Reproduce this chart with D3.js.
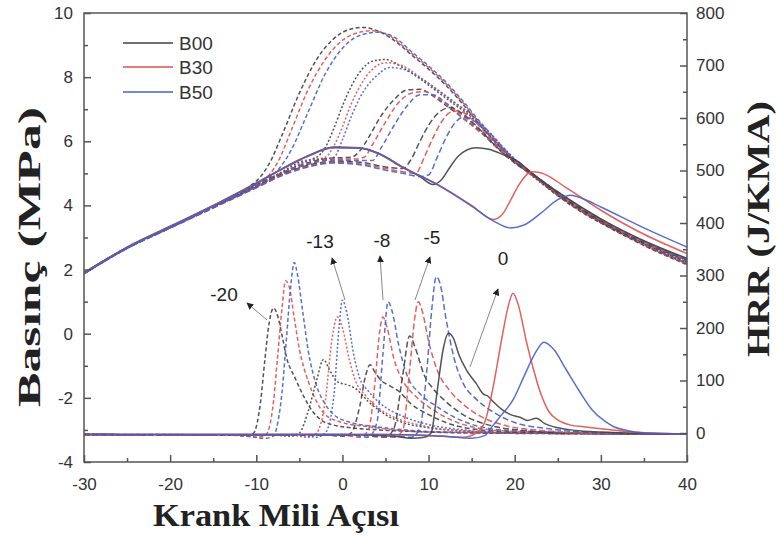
<!DOCTYPE html>
<html><head><meta charset="utf-8">
<script src="https://cdn.jsdelivr.net/npm/d3@7"></script>
<style>body{margin:0;background:#fff}</style>
</head><body><svg id="c" width="777" height="536"></svg>
<script>
// ---------- axis ticks ----------
const xTicks = [-30,-20,-10,0,10,20,30,40];
const xMinor = [-25,-15,-5,5,15,25,35];
const yLeftTicks = [-4,-2,0,2,4,6,8,10];
const yLeftMinor = [-3,-1,1,3,5,7,9];
const yRightTicks = [0,100,200,300,400,500,600,700,800];
const yRightMinor = [50,150,250,350,450,550,650,750];
const fuels = ["B00","B30","B50"];
const timings = ["-20","-13","-8","-5","0"];
const timingLabels = ["-20","-13","-8","-5","0"];

// ---------- pressure (MPa) [crank angle, value] ----------
const p_B00_m20 = [[-30,1.9],[-25,2.68],[-20,3.33],[-15,3.98],[-11,4.55],[-9.5,4.9],[-8.5,5.3],[-7,6.2],[-5,7.5],[-3,8.55],[-1,9.2],[1,9.5],[2.5,9.55],[4,9.45],[6,9.15],[8,8.7],[10,8.25],[12,7.75],[14,7.15],[16,6.5],[18,5.9],[20,5.35],[22,4.95],[25,4.3],[28,3.75],[30,3.45],[35,2.75],[40,2.15]];
const p_B30_m20 = [[-30,1.88],[-25,2.67],[-20,3.32],[-15,3.97],[-10,4.68],[-8.5,4.95],[-7.5,5.35],[-6,6.3],[-4,7.6],[-2,8.55],[0,9.15],[2,9.4],[3.5,9.45],[5,9.35],[8,8.75],[10,8.3],[12,7.8],[14,7.2],[16,6.55],[18,5.95],[20,5.4],[22,4.98],[25,4.32],[28,3.77],[30,3.47],[35,2.77],[40,2.17]];
const p_B50_m20 = [[-30,1.87],[-25,2.66],[-20,3.31],[-15,3.96],[-10,4.66],[-7.5,5.1],[-6,5.7],[-4,6.9],[-2,8.1],[0,8.9],[2,9.3],[4,9.4],[6,9.25],[8,8.8],[10,8.35],[12,7.85],[14,7.25],[16,6.6],[18,6.0],[20,5.42],[22,5.0],[25,4.35],[28,3.8],[30,3.5],[35,2.8],[40,2.2]];
const p_B00_m13 = [[-30,1.9],[-25,2.68],[-20,3.33],[-15,3.97],[-10,4.62],[-7,5.05],[-5,5.35],[-3,5.5],[-2,5.8],[-1,6.4],[0,7.1],[1,7.7],[2,8.15],[3.5,8.5],[5,8.55],[7,8.3],[9,7.95],[11,7.55],[13,7.15],[15,6.75],[17,6.2],[19,5.65],[21,5.15],[25,4.32],[30,3.47],[35,2.78],[40,2.2]];
const p_B30_m13 = [[-30,1.88],[-25,2.67],[-20,3.32],[-15,3.96],[-10,4.6],[-7,5.02],[-4,5.4],[-2,5.5],[-1,5.85],[0,6.45],[1,7.15],[2,7.7],[3.5,8.25],[5,8.45],[7,8.35],[9,8.0],[11,7.6],[13,7.2],[15,6.8],[17,6.25],[19,5.7],[21,5.18],[25,4.35],[30,3.5],[35,2.8],[40,2.22]];
const p_B50_m13 = [[-30,1.87],[-25,2.66],[-20,3.31],[-15,3.95],[-10,4.58],[-7,5.0],[-4,5.38],[-1,5.5],[0,6.05],[1,6.75],[2,7.35],[4,8.05],[5.5,8.3],[7,8.25],[9,7.98],[11,7.62],[13,7.22],[15,6.82],[17,6.3],[19,5.72],[21,5.2],[25,4.37],[30,3.52],[35,2.82],[40,2.24]];
const p_B00_m8 = [[-30,1.9],[-25,2.68],[-20,3.32],[-15,3.95],[-10,4.62],[-7,5.02],[-4,5.33],[-1,5.48],[1,5.5],[2,5.7],[3,6.1],[4.5,6.8],[6,7.3],[7.5,7.6],[9,7.62],[10.5,7.42],[12,7.12],[14,6.72],[16,6.3],[18,5.78],[20,5.32],[22,4.95],[25,4.35],[30,3.5],[35,2.82],[40,2.25]];
const p_B30_m8 = [[-30,1.88],[-25,2.67],[-20,3.31],[-15,3.94],[-10,4.6],[-7,5.0],[-4,5.3],[-1,5.45],[1.5,5.45],[2.5,5.5],[3.5,5.9],[5,6.6],[6.5,7.2],[8,7.5],[9.5,7.55],[11,7.35],[13,6.95],[15,6.5],[17,6.05],[19,5.55],[21,5.15],[25,4.37],[30,3.52],[35,2.84],[40,2.27]];
const p_B50_m8 = [[-30,1.87],[-25,2.66],[-20,3.3],[-15,3.93],[-10,4.58],[-7,4.98],[-4,5.28],[-1,5.42],[2,5.4],[3.5,5.4],[4.5,5.8],[6,6.5],[7.5,7.1],[9,7.45],[10.5,7.45],[12,7.2],[14,6.8],[16,6.35],[18,5.85],[20,5.38],[22,5.0],[25,4.4],[30,3.55],[35,2.86],[40,2.28]];
const p_B00_m5 = [[-30,1.9],[-25,2.68],[-20,3.31],[-15,3.94],[-10,4.58],[-7,4.97],[-4,5.25],[-1,5.38],[2,5.35],[5,5.2],[7,5.15],[8,5.45],[9,6.0],[10,6.5],[11,6.85],[12.5,7.05],[14,6.85],[16,6.35],[18,5.8],[20,5.35],[22,4.98],[25,4.38],[30,3.52],[35,2.84],[40,2.3]];
const p_B30_m5 = [[-30,1.88],[-25,2.67],[-20,3.3],[-15,3.93],[-10,4.56],[-7,4.95],[-4,5.22],[-1,5.35],[2,5.3],[5,5.15],[7,5.05],[8.5,5.0],[9.5,5.5],[10.5,6.1],[11.5,6.6],[12.5,6.9],[13.5,6.95],[15,6.7],[17,6.15],[19,5.6],[21,5.2],[25,4.4],[30,3.55],[35,2.86],[40,2.32]];
const p_B50_m5 = [[-30,1.87],[-25,2.66],[-20,3.29],[-15,3.92],[-10,4.55],[-7,4.93],[-4,5.2],[-1,5.32],[2,5.27],[5,5.1],[7,5.0],[9,4.9],[10,4.95],[11,5.5],[12,6.1],[13,6.55],[14,6.75],[15.5,6.6],[17,6.2],[19,5.65],[21,5.22],[25,4.42],[30,3.57],[35,2.88],[40,2.33]];
const p_B00_0 = [[-30,1.9],[-25,2.7],[-20,3.35],[-15,4.0],[-10,4.7],[-7,5.15],[-4,5.55],[-1,5.82],[2,5.8],[4,5.65],[7,5.2],[9,4.9],[10.5,4.65],[11.5,4.8],[12.5,5.2],[13.5,5.55],[15.5,5.8],[17,5.75],[18.5,5.6],[20.5,5.35],[22,5.0],[25,4.42],[30,3.58],[35,2.9],[40,2.35]];
const p_B30_0 = [[-30,1.89],[-25,2.69],[-20,3.34],[-15,3.99],[-10,4.69],[-7,5.14],[-4,5.54],[-1,5.81],[2,5.79],[4,5.64],[7,5.19],[11,4.66],[15,4.0],[17.5,3.56],[18.5,3.7],[19.5,4.15],[20.5,4.65],[22,5.05],[23,5.02],[26,4.55],[30,3.85],[35,3.1],[40,2.5]];
const p_B50_0 = [[-30,1.88],[-25,2.68],[-20,3.33],[-15,3.98],[-10,4.68],[-7,5.13],[-4,5.53],[-1,5.8],[2,5.78],[4,5.63],[7,5.18],[11,4.65],[15,3.98],[17.5,3.52],[19.5,3.3],[21,3.38],[23,3.75],[25,4.18],[26.5,4.32],[28,4.2],[30,3.95],[35,3.3],[40,2.7]];

// ---------- heat release rate (J/KMA) [crank angle, value] ----------
const h_B00_m20 = [[-30,-3],[-20,-3],[-13,-4],[-11,-6],[-10.3,0],[-9.5,60],[-9,140],[-8.5,210],[-8,238],[-7.5,222],[-7,185],[-6.5,145],[-5.5,105],[-4.5,70],[-3.5,42],[-2.5,25],[-1,15],[1,10],[4,6],[8,3],[15,0],[40,-2]];
const h_B30_m20 = [[-30,-3],[-12,-4],[-10,-8],[-9,-5],[-8.5,10],[-8,60],[-7.5,150],[-7,240],[-6.6,290],[-6.2,280],[-5.6,220],[-5,160],[-4,100],[-3,60],[-2,35],[0,20],[3,12],[6,6],[10,2],[40,-2]];
const h_B50_m20 = [[-30,-3],[-12,-4],[-9,-10],[-8,-6],[-7.5,20],[-7,80],[-6.5,180],[-6,280],[-5.6,325],[-5.2,300],[-4.6,230],[-4,160],[-3,90],[-2,55],[-1,35],[1,20],[4,12],[8,5],[12,2],[40,-2]];
const h_B00_m13 = [[-30,-3],[-8,-4],[-6,-6],[-5,0],[-4,40],[-3,100],[-2.2,140],[-1.5,120],[-0.5,97],[0.5,92],[1.5,85],[3,60],[5,35],[7,20],[10,10],[14,4],[20,0],[40,-2]];
const h_B30_m13 = [[-30,-3],[-6,-4],[-4,-8],[-3,0],[-2,60],[-1.2,180],[-0.6,221],[0,200],[0.8,140],[1.5,100],[2.5,75],[4,50],[6,30],[9,15],[13,5],[20,0],[40,-2]];
const h_B50_m13 = [[-30,-3],[-5,-4],[-3,-8],[-2,0],[-1,70],[-0.4,200],[0,253],[0.5,230],[1.3,150],[2,105],[3,80],[4.5,55],[7,32],[10,16],[14,6],[20,0],[40,-2]];
const h_B00_m8 = [[-30,-3],[-2,-4],[0,-6],[1,0],[2,50],[2.7,110],[3.2,130],[3.8,115],[4.5,100],[5.5,90],[6.5,80],[8,55],[10,35],[12,20],[15,8],[20,2],[40,-2]];
const h_B30_m8 = [[-30,-3],[0,-4],[2,-8],[3,5],[3.8,100],[4.3,190],[4.7,221],[5.2,200],[6,140],[7,100],[8.5,70],[10,50],[12,30],[15,12],[20,3],[40,-2]];
const h_B50_m8 = [[-30,-3],[1,-4],[3,-8],[4,20],[4.7,150],[5.3,250],[5.8,230],[6.5,170],[7.5,110],[9,75],[11,50],[13,30],[16,12],[20,4],[40,-2]];
const h_B00_m5 = [[-30,-3],[2,-4],[5,-8],[6,10],[7,110],[7.8,185],[8.5,160],[9.5,110],[10.5,85],[12,60],[14,35],[17,15],[21,5],[26,0],[40,-2]];
const h_B30_m5 = [[-30,-3],[3,-4],[6,-8],[7,5],[7.8,120],[8.4,220],[8.8,250],[9.3,230],[10,175],[11,120],[12.5,80],[14,55],[16,32],[19,14],[23,5],[28,0],[40,-2]];
const h_B50_m5 = [[-30,-3],[4,-4],[8,-8],[9,10],[9.8,120],[10.4,240],[10.9,298],[11.4,280],[12,220],[13,140],[14,95],[15.5,65],[17.5,40],[20,20],[24,8],[30,0],[40,-2]];
const h_B00_0 = [[-30,-3],[0,-3],[6,-6],[8,-10],[9.5,-8],[10.3,0],[11,80],[11.7,160],[12.3,190],[12.9,180],[13.5,150],[14.4,120],[15.5,95],[16.3,75],[16.9,70],[17.6,58],[18.5,45],[19.5,35],[20.6,30],[21.5,24],[22.5,28],[23.5,18],[25,10],[27,5],[30,2],[40,-2]];
const h_B30_0 = [[-30,-3],[5,-3],[10,-5],[14,-8],[15.5,0],[16.5,20],[17.5,88],[18.5,180],[19.3,245],[19.8,266],[20.4,245],[21.4,171],[22.2,120],[23,76],[24,40],[25,25],[26.5,15],[28,12],[30,8],[33,3],[40,-2]];
const h_B50_0 = [[-30,-3],[5,-3],[12,-6],[15,-10],[16.5,-5],[17.5,15],[18.5,35],[19.8,63],[21,105],[22.3,150],[23.4,173],[24.5,160],[26,120],[27.5,80],[29,44],[30.5,22],[31.5,12],[33,5],[35,0],[40,-2]];

const pressureData = {
  "B00":[p_B00_m20,p_B00_m13,p_B00_m8,p_B00_m5,p_B00_0],
  "B30":[p_B30_m20,p_B30_m13,p_B30_m8,p_B30_m5,p_B30_0],
  "B50":[p_B50_m20,p_B50_m13,p_B50_m8,p_B50_m5,p_B50_0]};
const hrrData = {
  "B00":[h_B00_m20,h_B00_m13,h_B00_m8,h_B00_m5,h_B00_0],
  "B30":[h_B30_m20,h_B30_m13,h_B30_m8,h_B30_m5,h_B30_0],
  "B50":[h_B50_m20,h_B50_m13,h_B50_m8,h_B50_m5,h_B50_0]};

// ---------- styling ----------
const colors = {"B00":"#404040","B30":"#e0504a","B50":"#4660c8"};
const dashes = {"-20":"4,2.5","-13":"2,2","-8":"5,3","-5":"6,3","0":null};

const svg = d3.select("#c");
const L = 84, R = 687, T = 13, B = 462;
const x = d3.scaleLinear().domain([-30,40]).range([L,R]);
const yL = d3.scaleLinear().domain([-4,10]).range([B,T]);
const yR = d3.scaleLinear().domain([-55.2,800]).range([B,T]);

const plot = svg.append("g");
svg.append("clipPath").attr("id","clp").append("rect")
  .attr("x",L).attr("y",T).attr("width",R-L).attr("height",B-T);
plot.attr("clip-path","url(#clp)");

function drawSeries(dataMap, yScale){
  timings.forEach((t,ti)=>{
    fuels.forEach(f=>{
      const pts = dataMap[f][ti];
      const line = d3.line().x(d=>x(d[0])).y(d=>yScale(d[1])).curve(d3.curveMonotoneX);
      plot.append("path").attr("d",line(pts)).attr("fill","none")
        .attr("stroke",colors[f]).attr("stroke-width",1.5)
        .attr("stroke-dasharray",dashes[t]).attr("stroke-opacity",0.9);
    });
  });
}
drawSeries(hrrData, yR);
drawSeries(pressureData, yL);

// ---------- axes ----------
const axisColor = "#555";
const tickFont = "'Liberation Sans', Arial, sans-serif";
const fmt = d => String(d);
function styleAxis(g){
  g.select(".domain").remove();
  g.selectAll("line").attr("stroke",axisColor).attr("stroke-width",1.5);
  g.selectAll("text").attr("fill","#333").style("font-family",tickFont).style("font-size","17px");
}
svg.append("g").attr("transform",`translate(0,${B})`)
  .call(d3.axisBottom(x).tickValues(xTicks).tickSize(-7).tickPadding(16).tickFormat(fmt)).call(styleAxis);
svg.append("g").attr("transform",`translate(0,${B})`)
  .call(d3.axisBottom(x).tickValues(xMinor).tickSize(-4).tickFormat("")).call(styleAxis);
svg.append("g").attr("transform",`translate(${L},0)`)
  .call(d3.axisLeft(yL).tickValues(yLeftTicks).tickSize(-7).tickPadding(11).tickFormat(fmt)).call(styleAxis);
svg.append("g").attr("transform",`translate(${L},0)`)
  .call(d3.axisLeft(yL).tickValues(yLeftMinor).tickSize(-4).tickFormat("")).call(styleAxis);
svg.append("g").attr("transform",`translate(${R},0)`)
  .call(d3.axisRight(yR).tickValues(yRightTicks).tickSize(-7).tickPadding(9).tickFormat(fmt)).call(styleAxis);
svg.append("g").attr("transform",`translate(${R},0)`)
  .call(d3.axisRight(yR).tickValues(yRightMinor).tickSize(-4).tickFormat("")).call(styleAxis);

svg.append("rect").attr("x",L).attr("y",T).attr("width",R-L).attr("height",B-T)
  .attr("fill","none").attr("stroke",axisColor).attr("stroke-width",1.5);

// ---------- titles ----------
const titleFont = "'Liberation Serif','Times New Roman',serif";
function title(txt, tr, len){
  svg.append("text").attr("transform",tr).attr("text-anchor","middle")
    .attr("textLength",len).attr("lengthAdjust","spacingAndGlyphs")
    .style("font-family",titleFont).style("font-weight","bold").style("font-size","31px").attr("fill","#222")
    .text(txt);
}
title("Krank Mili Açısı","translate(276,526)",246);
title("Basınç (MPa)","translate(40,257) rotate(-90)",300);
title("HRR (J/KMA)","translate(769,229) rotate(-90)",256);

// ---------- legend ----------
const legY = [43,67,92];
fuels.forEach((f,i)=>{
  svg.append("line").attr("x1",123).attr("x2",173).attr("y1",legY[i]).attr("y2",legY[i])
    .attr("stroke",colors[f]).attr("stroke-width",1.5);
  svg.append("text").attr("x",179).attr("y",legY[i]).attr("dy","0.36em")
    .style("font-family",tickFont).style("font-size","19px").attr("fill","#333").text(f);
});

// ---------- timing annotations ----------
const annPos = [[224,294],[320,241],[382,240],[432,237],[503,258]];
const annArrow = [[[267,320],[247,303]],[[345,300],[332,258]],[[383,300],[380,256]],[[415,300],[430,257]],[[470,367],[498,289]]];
svg.append("defs").append("marker").attr("id","ah").attr("viewBox","0 0 10 10")
  .attr("refX",9).attr("refY",5).attr("markerWidth",7).attr("markerHeight",7).attr("orient","auto")
  .append("path").attr("d","M0,0 L10,5 L0,10 z").attr("fill","#222");
timingLabels.forEach((t,i)=>{
  const a = annArrow[i];
  svg.append("line").attr("x1",a[0][0]).attr("y1",a[0][1]).attr("x2",a[1][0]).attr("y2",a[1][1])
    .attr("stroke","#888").attr("stroke-width",1).attr("marker-end","url(#ah)");
  svg.append("text").attr("x",annPos[i][0]).attr("y",annPos[i][1]).attr("dy","0.36em")
    .attr("text-anchor","middle").style("font-family",tickFont).style("font-size","19px")
    .attr("fill","#222").text(t);
});
</script></body></html>
